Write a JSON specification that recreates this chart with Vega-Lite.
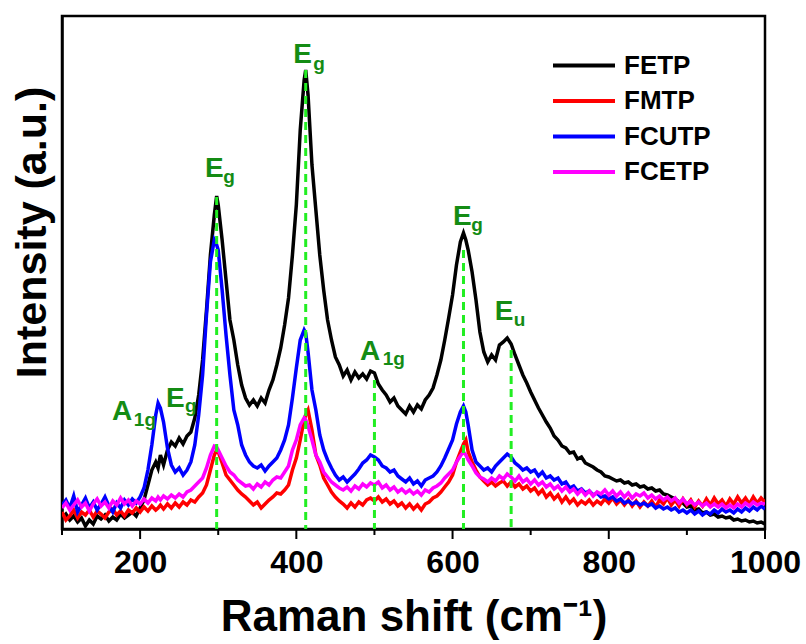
{
  "$schema": "https://vega.github.io/schema/vega-lite/v6.json",
  "width": 703,
  "height": 513,
  "autosize": "none",
  "padding": {"left": 62, "top": 16, "right": 41, "bottom": 115},
  "background": "white",
  "config": {
    "font": "Liberation Sans",
    "view": {"stroke": "black", "strokeWidth": 2.5},
    "axis": {"domainColor": "black", "domainWidth": 2.5, "grid": false}
  },
  "datasets": {
    "spectra": [
      {"x":100,"FETP":11,"FMTP":17,"FCUTP":24,"FCETP":21},
      {"x":105,"FETP":15,"FMTP":9,"FCUTP":29,"FCETP":26},
      {"x":110,"FETP":9,"FMTP":13,"FCUTP":21,"FCETP":19},
      {"x":115,"FETP":13,"FMTP":19,"FCUTP":33,"FCETP":24},
      {"x":120,"FETP":7,"FMTP":11,"FCUTP":17,"FCETP":29},
      {"x":125,"FETP":11,"FMTP":17,"FCUTP":24,"FCETP":22},
      {"x":130,"FETP":3,"FMTP":14,"FCUTP":31,"FCETP":26},
      {"x":135,"FETP":9,"FMTP":19,"FCUTP":21,"FCETP":18},
      {"x":140,"FETP":5,"FMTP":12,"FCUTP":27,"FCETP":25},
      {"x":145,"FETP":13,"FMTP":18,"FCUTP":19,"FCETP":30},
      {"x":150,"FETP":10,"FMTP":15,"FCUTP":25,"FCETP":23},
      {"x":155,"FETP":14,"FMTP":11,"FCUTP":32,"FCETP":27},
      {"x":160,"FETP":8,"FMTP":17,"FCUTP":23,"FCETP":21},
      {"x":165,"FETP":12,"FMTP":20,"FCUTP":17,"FCETP":28},
      {"x":170,"FETP":9,"FMTP":14,"FCUTP":26,"FCETP":24},
      {"x":175,"FETP":15,"FMTP":18,"FCUTP":21,"FCETP":31},
      {"x":180,"FETP":11,"FMTP":13,"FCUTP":29,"FCETP":25},
      {"x":185,"FETP":14,"FMTP":19,"FCUTP":24,"FCETP":29},
      {"x":190,"FETP":17,"FMTP":16,"FCUTP":30,"FCETP":23},
      {"x":195,"FETP":13,"FMTP":21,"FCUTP":26,"FCETP":28},
      {"x":200,"FETP":21,"FMTP":17,"FCUTP":32,"FCETP":25},
      {"x":205,"FETP":29,"FMTP":22,"FCUTP":41,"FCETP":30},
      {"x":210,"FETP":44,"FMTP":18,"FCUTP":59,"FCETP":26},
      {"x":215,"FETP":59,"FMTP":23,"FCUTP":84,"FCETP":31},
      {"x":220,"FETP":67,"FMTP":19,"FCUTP":114,"FCETP":28},
      {"x":223,"FETP":61,"FMTP":21,"FCUTP":126,"FCETP":32},
      {"x":226,"FETP":74,"FMTP":24,"FCUTP":121,"FCETP":29},
      {"x":230,"FETP":64,"FMTP":20,"FCUTP":107,"FCETP":33},
      {"x":235,"FETP":79,"FMTP":25,"FCUTP":81,"FCETP":30},
      {"x":240,"FETP":87,"FMTP":21,"FCUTP":64,"FCETP":34},
      {"x":245,"FETP":83,"FMTP":26,"FCUTP":57,"FCETP":31},
      {"x":250,"FETP":91,"FMTP":22,"FCUTP":61,"FCETP":35},
      {"x":255,"FETP":85,"FMTP":27,"FCUTP":54,"FCETP":32},
      {"x":260,"FETP":93,"FMTP":24,"FCUTP":59,"FCETP":37},
      {"x":265,"FETP":97,"FMTP":29,"FCUTP":67,"FCETP":39},
      {"x":270,"FETP":111,"FMTP":27,"FCUTP":84,"FCETP":43},
      {"x":275,"FETP":134,"FMTP":32,"FCUTP":114,"FCETP":47},
      {"x":280,"FETP":169,"FMTP":36,"FCUTP":154,"FCETP":51},
      {"x":285,"FETP":219,"FMTP":44,"FCUTP":214,"FCETP":61},
      {"x":290,"FETP":274,"FMTP":59,"FCUTP":267,"FCETP":74},
      {"x":295,"FETP":314,"FMTP":74,"FCUTP":289,"FCETP":83},
      {"x":298,"FETP":333,"FMTP":79,"FCUTP":284,"FCETP":82},
      {"x":300,"FETP":324,"FMTP":77,"FCUTP":279,"FCETP":79},
      {"x":305,"FETP":289,"FMTP":66,"FCUTP":239,"FCETP":71},
      {"x":310,"FETP":249,"FMTP":54,"FCUTP":194,"FCETP":63},
      {"x":315,"FETP":209,"FMTP":49,"FCUTP":154,"FCETP":57},
      {"x":320,"FETP":189,"FMTP":44,"FCUTP":119,"FCETP":54},
      {"x":325,"FETP":164,"FMTP":39,"FCUTP":104,"FCETP":49},
      {"x":330,"FETP":144,"FMTP":35,"FCUTP":84,"FCETP":46},
      {"x":335,"FETP":131,"FMTP":32,"FCUTP":74,"FCETP":43},
      {"x":340,"FETP":124,"FMTP":28,"FCUTP":67,"FCETP":44},
      {"x":345,"FETP":129,"FMTP":24,"FCUTP":63,"FCETP":40},
      {"x":350,"FETP":123,"FMTP":27,"FCUTP":61,"FCETP":45},
      {"x":355,"FETP":131,"FMTP":21,"FCUTP":64,"FCETP":42},
      {"x":360,"FETP":126,"FMTP":25,"FCUTP":58,"FCETP":47},
      {"x":365,"FETP":139,"FMTP":29,"FCUTP":63,"FCETP":44},
      {"x":370,"FETP":149,"FMTP":32,"FCUTP":67,"FCETP":49},
      {"x":375,"FETP":164,"FMTP":36,"FCUTP":71,"FCETP":52},
      {"x":380,"FETP":181,"FMTP":35,"FCUTP":79,"FCETP":51},
      {"x":385,"FETP":204,"FMTP":39,"FCUTP":89,"FCETP":57},
      {"x":390,"FETP":231,"FMTP":44,"FCUTP":104,"FCETP":63},
      {"x":395,"FETP":274,"FMTP":59,"FCUTP":131,"FCETP":79},
      {"x":400,"FETP":324,"FMTP":71,"FCUTP":161,"FCETP":89},
      {"x":405,"FETP":399,"FMTP":89,"FCUTP":189,"FCETP":104},
      {"x":410,"FETP":449,"FMTP":109,"FCUTP":199,"FCETP":111},
      {"x":412,"FETP":459,"FMTP":114,"FCUTP":196,"FCETP":109},
      {"x":415,"FETP":434,"FMTP":119,"FCUTP":177,"FCETP":103},
      {"x":420,"FETP":364,"FMTP":99,"FCUTP":139,"FCETP":89},
      {"x":425,"FETP":319,"FMTP":74,"FCUTP":119,"FCETP":74},
      {"x":430,"FETP":274,"FMTP":64,"FCUTP":94,"FCETP":67},
      {"x":435,"FETP":239,"FMTP":51,"FCUTP":79,"FCETP":57},
      {"x":440,"FETP":209,"FMTP":44,"FCUTP":69,"FCETP":52},
      {"x":445,"FETP":189,"FMTP":37,"FCUTP":61,"FCETP":47},
      {"x":450,"FETP":172,"FMTP":32,"FCUTP":54,"FCETP":44},
      {"x":455,"FETP":164,"FMTP":28,"FCUTP":49,"FCETP":41},
      {"x":460,"FETP":153,"FMTP":25,"FCUTP":52,"FCETP":39},
      {"x":465,"FETP":159,"FMTP":21,"FCUTP":47,"FCETP":42},
      {"x":470,"FETP":149,"FMTP":26,"FCUTP":51,"FCETP":38},
      {"x":475,"FETP":157,"FMTP":22,"FCUTP":55,"FCETP":43},
      {"x":480,"FETP":151,"FMTP":27,"FCUTP":60,"FCETP":40},
      {"x":485,"FETP":155,"FMTP":24,"FCUTP":66,"FCETP":45},
      {"x":490,"FETP":150,"FMTP":29,"FCUTP":69,"FCETP":42},
      {"x":495,"FETP":158,"FMTP":31,"FCUTP":74,"FCETP":46},
      {"x":500,"FETP":156,"FMTP":28,"FCUTP":72,"FCETP":44},
      {"x":505,"FETP":145,"FMTP":32,"FCUTP":69,"FCETP":47},
      {"x":510,"FETP":139,"FMTP":27,"FCUTP":63,"FCETP":41},
      {"x":515,"FETP":134,"FMTP":30,"FCUTP":61,"FCETP":44},
      {"x":520,"FETP":127,"FMTP":25,"FCUTP":57,"FCETP":39},
      {"x":525,"FETP":131,"FMTP":28,"FCUTP":59,"FCETP":42},
      {"x":530,"FETP":123,"FMTP":23,"FCUTP":53,"FCETP":37},
      {"x":535,"FETP":119,"FMTP":26,"FCUTP":50,"FCETP":40},
      {"x":540,"FETP":115,"FMTP":21,"FCUTP":47,"FCETP":36},
      {"x":545,"FETP":123,"FMTP":25,"FCUTP":51,"FCETP":39},
      {"x":550,"FETP":117,"FMTP":20,"FCUTP":45,"FCETP":35},
      {"x":555,"FETP":124,"FMTP":24,"FCUTP":48,"FCETP":38},
      {"x":560,"FETP":120,"FMTP":19,"FCUTP":43,"FCETP":34},
      {"x":565,"FETP":129,"FMTP":25,"FCUTP":49,"FCETP":39},
      {"x":570,"FETP":134,"FMTP":27,"FCUTP":51,"FCETP":37},
      {"x":575,"FETP":141,"FMTP":31,"FCUTP":53,"FCETP":41},
      {"x":580,"FETP":154,"FMTP":33,"FCUTP":57,"FCETP":43},
      {"x":585,"FETP":169,"FMTP":37,"FCUTP":63,"FCETP":46},
      {"x":590,"FETP":189,"FMTP":42,"FCUTP":71,"FCETP":51},
      {"x":595,"FETP":211,"FMTP":47,"FCUTP":80,"FCETP":55},
      {"x":600,"FETP":234,"FMTP":54,"FCUTP":89,"FCETP":59},
      {"x":605,"FETP":264,"FMTP":67,"FCUTP":105,"FCETP":67},
      {"x":610,"FETP":287,"FMTP":77,"FCUTP":117,"FCETP":73},
      {"x":614,"FETP":296,"FMTP":85,"FCUTP":123,"FCETP":77},
      {"x":617,"FETP":289,"FMTP":89,"FCUTP":117,"FCETP":74},
      {"x":620,"FETP":279,"FMTP":77,"FCUTP":104,"FCETP":69},
      {"x":625,"FETP":257,"FMTP":67,"FCUTP":79,"FCETP":63},
      {"x":630,"FETP":229,"FMTP":59,"FCUTP":67,"FCETP":56},
      {"x":635,"FETP":197,"FMTP":52,"FCUTP":63,"FCETP":52},
      {"x":640,"FETP":177,"FMTP":48,"FCUTP":59,"FCETP":50},
      {"x":645,"FETP":167,"FMTP":44,"FCUTP":61,"FCETP":47},
      {"x":650,"FETP":174,"FMTP":47,"FCUTP":57,"FCETP":51},
      {"x":655,"FETP":169,"FMTP":43,"FCUTP":63,"FCETP":48},
      {"x":660,"FETP":184,"FMTP":46,"FCUTP":67,"FCETP":53},
      {"x":665,"FETP":187,"FMTP":48,"FCUTP":71,"FCETP":50},
      {"x":670,"FETP":191,"FMTP":43,"FCUTP":75,"FCETP":55},
      {"x":675,"FETP":185,"FMTP":47,"FCUTP":72,"FCETP":52},
      {"x":680,"FETP":174,"FMTP":42,"FCUTP":66,"FCETP":48},
      {"x":685,"FETP":164,"FMTP":45,"FCUTP":63,"FCETP":53},
      {"x":690,"FETP":154,"FMTP":40,"FCUTP":59,"FCETP":47},
      {"x":695,"FETP":146,"FMTP":43,"FCUTP":61,"FCETP":50},
      {"x":700,"FETP":137,"FMTP":38,"FCUTP":57,"FCETP":45},
      {"x":705,"FETP":129,"FMTP":41,"FCUTP":59,"FCETP":49},
      {"x":710,"FETP":121,"FMTP":35,"FCUTP":53,"FCETP":44},
      {"x":715,"FETP":114,"FMTP":39,"FCUTP":57,"FCETP":47},
      {"x":720,"FETP":107,"FMTP":32,"FCUTP":51,"FCETP":42},
      {"x":725,"FETP":101,"FMTP":36,"FCUTP":53,"FCETP":45},
      {"x":730,"FETP":93,"FMTP":30,"FCUTP":49,"FCETP":40},
      {"x":735,"FETP":89,"FMTP":34,"FCUTP":51,"FCETP":43},
      {"x":740,"FETP":83,"FMTP":27,"FCUTP":45,"FCETP":38},
      {"x":745,"FETP":81,"FMTP":32,"FCUTP":47,"FCETP":42},
      {"x":750,"FETP":76,"FMTP":26,"FCUTP":41,"FCETP":37},
      {"x":755,"FETP":77,"FMTP":30,"FCUTP":43,"FCETP":40},
      {"x":760,"FETP":70,"FMTP":24,"FCUTP":38,"FCETP":35},
      {"x":765,"FETP":72,"FMTP":28,"FCUTP":40,"FCETP":39},
      {"x":770,"FETP":66,"FMTP":25,"FCUTP":36,"FCETP":34},
      {"x":775,"FETP":64,"FMTP":29,"FCUTP":38,"FCETP":38},
      {"x":780,"FETP":62,"FMTP":24,"FCUTP":34,"FCETP":33},
      {"x":785,"FETP":59,"FMTP":28,"FCUTP":36,"FCETP":37},
      {"x":790,"FETP":57,"FMTP":25,"FCUTP":32,"FCETP":35},
      {"x":795,"FETP":53,"FMTP":30,"FCUTP":33,"FCETP":39},
      {"x":800,"FETP":52,"FMTP":26,"FCUTP":30,"FCETP":34},
      {"x":805,"FETP":50,"FMTP":31,"FCUTP":32,"FCETP":38},
      {"x":810,"FETP":48,"FMTP":25,"FCUTP":28,"FCETP":33},
      {"x":815,"FETP":49,"FMTP":29,"FCUTP":30,"FCETP":37},
      {"x":820,"FETP":46,"FMTP":24,"FCUTP":26,"FCETP":32},
      {"x":825,"FETP":47,"FMTP":29,"FCUTP":28,"FCETP":36},
      {"x":830,"FETP":44,"FMTP":23,"FCUTP":25,"FCETP":31},
      {"x":835,"FETP":45,"FMTP":28,"FCUTP":27,"FCETP":35},
      {"x":840,"FETP":42,"FMTP":22,"FCUTP":24,"FCETP":33},
      {"x":845,"FETP":43,"FMTP":27,"FCUTP":26,"FCETP":36},
      {"x":850,"FETP":40,"FMTP":23,"FCUTP":23,"FCETP":31},
      {"x":855,"FETP":41,"FMTP":28,"FCUTP":25,"FCETP":34},
      {"x":860,"FETP":38,"FMTP":22,"FCUTP":21,"FCETP":30},
      {"x":865,"FETP":39,"FMTP":29,"FCUTP":23,"FCETP":33},
      {"x":870,"FETP":35,"FMTP":25,"FCUTP":20,"FCETP":29},
      {"x":875,"FETP":34,"FMTP":31,"FCUTP":22,"FCETP":32},
      {"x":880,"FETP":32,"FMTP":24,"FCUTP":19,"FCETP":28},
      {"x":885,"FETP":30,"FMTP":29,"FCUTP":21,"FCETP":31},
      {"x":890,"FETP":27,"FMTP":23,"FCUTP":17,"FCETP":26},
      {"x":895,"FETP":26,"FMTP":30,"FCUTP":19,"FCETP":30},
      {"x":900,"FETP":22,"FMTP":24,"FCUTP":16,"FCETP":25},
      {"x":905,"FETP":23,"FMTP":29,"FCUTP":19,"FCETP":28},
      {"x":910,"FETP":19,"FMTP":22,"FCUTP":15,"FCETP":24},
      {"x":915,"FETP":20,"FMTP":28,"FCUTP":18,"FCETP":27},
      {"x":920,"FETP":16,"FMTP":23,"FCUTP":14,"FCETP":23},
      {"x":925,"FETP":17,"FMTP":30,"FCUTP":17,"FCETP":26},
      {"x":930,"FETP":14,"FMTP":24,"FCUTP":15,"FCETP":22},
      {"x":935,"FETP":15,"FMTP":31,"FCUTP":19,"FCETP":25},
      {"x":940,"FETP":12,"FMTP":25,"FCUTP":16,"FCETP":22},
      {"x":945,"FETP":13,"FMTP":29,"FCUTP":20,"FCETP":25},
      {"x":950,"FETP":11,"FMTP":23,"FCUTP":17,"FCETP":21},
      {"x":955,"FETP":12,"FMTP":30,"FCUTP":19,"FCETP":24},
      {"x":960,"FETP":9,"FMTP":25,"FCUTP":16,"FCETP":21},
      {"x":965,"FETP":10,"FMTP":32,"FCUTP":20,"FCETP":25},
      {"x":970,"FETP":8,"FMTP":26,"FCUTP":17,"FCETP":22},
      {"x":975,"FETP":9,"FMTP":31,"FCUTP":21,"FCETP":26},
      {"x":980,"FETP":7,"FMTP":25,"FCUTP":18,"FCETP":23},
      {"x":985,"FETP":8,"FMTP":32,"FCUTP":22,"FCETP":27},
      {"x":990,"FETP":6,"FMTP":26,"FCUTP":19,"FCETP":24},
      {"x":995,"FETP":7,"FMTP":31,"FCUTP":23,"FCETP":26},
      {"x":1000,"FETP":5,"FMTP":27,"FCUTP":20,"FCETP":25}
    ],
    "peaks": [
      {"x": 298, "top": 332},
      {"x": 412, "top": 459},
      {"x": 500, "top": 149},
      {"x": 614, "top": 279},
      {"x": 675, "top": 179}
    ],
    "ticks": [
      {"x": 100, "kind": "minor"},
      {"x": 200, "kind": "major"},
      {"x": 300, "kind": "minor"},
      {"x": 400, "kind": "major"},
      {"x": 500, "kind": "minor"},
      {"x": 600, "kind": "major"},
      {"x": 700, "kind": "minor"},
      {"x": 800, "kind": "major"},
      {"x": 900, "kind": "minor"},
      {"x": 1000, "kind": "major"}
    ],
    "modes": [
      {"x": 283, "y": 352, "t": "E"},
      {"x": 396, "y": 466, "t": "E"},
      {"x": 481.5, "y": 169, "t": "A"},
      {"x": 600.6, "y": 304, "t": "E"},
      {"x": 654, "y": 209, "t": "E"},
      {"x": 164, "y": 109, "t": "A"},
      {"x": 233, "y": 122, "t": "E"}
    ],
    "subs": [
      {"x": 306.5, "y": 346, "t": "g"},
      {"x": 421.5, "y": 459, "t": "g"},
      {"x": 510.5, "y": 164, "t": "1g"},
      {"x": 624, "y": 298, "t": "g"},
      {"x": 678.5, "y": 203, "t": "u"},
      {"x": 192, "y": 103, "t": "1g"},
      {"x": 257.5, "y": 117, "t": "g"}
    ]
  },
  "layer": [
    {
      "data": {"name": "spectra"},
      "transform": [
        {"fold": ["FETP", "FMTP", "FCUTP", "FCETP"], "as": ["sample", "intensity"]}
      ],
      "mark": {"type": "line", "strokeWidth": 3.5, "clip": true},
      "encoding": {
        "x": {
          "field": "x",
          "type": "quantitative",
          "scale": {"domain": [100, 1000], "nice": false},
          "axis": {
            "orient": "bottom",
            "title": "Raman shift (cm⁻¹)",
            "titleFontSize": 44,
            "titleFontWeight": "bold",
            "titleColor": "black",
            "titleBaseline": "alphabetic",
            "titleY": 101,
            "values": [200, 400, 600, 800, 1000],
            "format": "d",
            "labelFontSize": 32,
            "labelFontWeight": "bold",
            "labelColor": "black",
            "labelPadding": 18,
            "labelFlush": false,
            "ticks": false,
            "domainWidth": 2.5
          }
        },
        "y": {
          "field": "intensity",
          "type": "quantitative",
          "scale": {"domain": [0, 513], "nice": false},
          "axis": {
            "title": "Intensity (a.u.)",
            "titleFontSize": 43,
            "titleFontWeight": "bold",
            "titleColor": "black",
            "titleAngle": -90,
            "titleAlign": "center",
            "titleBaseline": "alphabetic",
            "titleX": -17,
            "titleY": 216,
            "labels": false,
            "ticks": false
          }
        },
        "color": {
          "field": "sample",
          "type": "nominal",
          "sort": ["FETP", "FMTP", "FCUTP", "FCETP"],
          "scale": {
            "domain": ["FETP", "FMTP", "FCUTP", "FCETP"],
            "range": ["#000000", "#ff0000", "#0000ff", "#ff00ff"]
          },
          "legend": {
            "title": null,
            "orient": "none",
            "legendX": 504.5,
            "legendY": 32,
            "padding": 0,
            "symbolType": "M-2,0H2",
            "symbolSize": 961,
            "symbolStrokeWidth": 4,
            "labelFontSize": 26,
            "labelFontWeight": "bold",
            "labelColor": "black",
            "labelOffset": 22.5,
            "rowPadding": 4.5
          }
        }
      }
    },
    {
      "data": {"name": "ticks"},
      "transform": [{"filter": "datum.kind === 'major'"}],
      "mark": {"type": "rule", "color": "black", "strokeWidth": 2, "clip": false},
      "encoding": {
        "x": {"field": "x", "type": "quantitative"},
        "y": {"datum": 0},
        "y2": {"datum": -10}
      }
    },
    {
      "data": {"name": "ticks"},
      "transform": [{"filter": "datum.kind === 'minor'"}],
      "mark": {"type": "rule", "color": "black", "strokeWidth": 2, "clip": false},
      "encoding": {
        "x": {"field": "x", "type": "quantitative"},
        "y": {"datum": 0},
        "y2": {"datum": -6}
      }
    },
    {
      "data": {"name": "peaks"},
      "mark": {"type": "rule", "color": "#22ee22", "strokeWidth": 3, "strokeDash": [8, 5]},
      "encoding": {
        "x": {"field": "x", "type": "quantitative"},
        "y": {"field": "top", "type": "quantitative"},
        "y2": {"datum": 0}
      }
    },
    {
      "data": {"name": "modes"},
      "mark": {"type": "text", "align": "left", "baseline": "alphabetic", "fontSize": 28, "fontWeight": "bold", "color": "#148c14"},
      "encoding": {
        "x": {"field": "x", "type": "quantitative"},
        "y": {"field": "y", "type": "quantitative"},
        "text": {"field": "t"}
      }
    },
    {
      "data": {"name": "subs"},
      "mark": {"type": "text", "align": "left", "baseline": "alphabetic", "fontSize": 19, "fontWeight": "bold", "color": "#148c14"},
      "encoding": {
        "x": {"field": "x", "type": "quantitative"},
        "y": {"field": "y", "type": "quantitative"},
        "text": {"field": "t"}
      }
    }
  ]
}
